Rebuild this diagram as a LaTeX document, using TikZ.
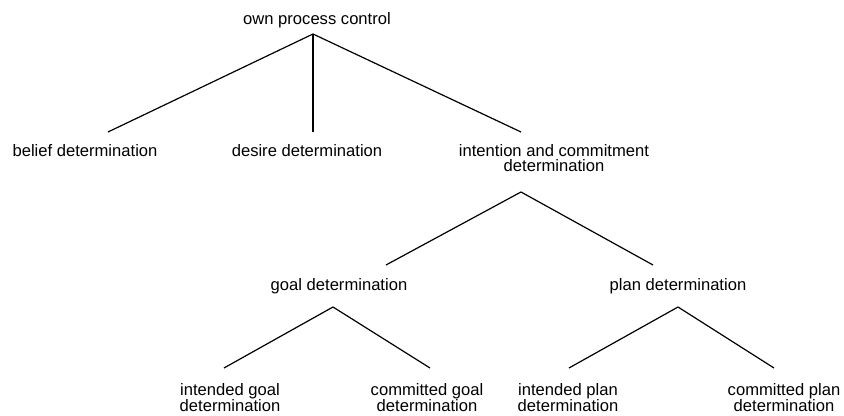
\documentclass[tikz,border=0pt]{standalone}
\usepackage{fontspec}
\setmainfont{Liberation Sans}
\begin{document}
\begin{tikzpicture}[x=0.75pt,y=-0.75pt,line width=0.9pt,
  every node/.style={inner sep=0pt, anchor=base, align=center, font=\fontsize{12.45}{11.25}\selectfont}]
\useasboundingbox (0,0) rectangle (844,416);
\node (root) at (317,25) {own process control};
\node (belief) at (85,157) {belief determination};
\node (desire) at (307,157) {desire determination};
\node (intention) at (554,172) {intention and commitment\\ determination};
\node (goal) at (339,291) {goal determination};
\node (plan) at (678,291) {plan determination};
\node (intgoal) at (230,412) {intended goal\\ determination};
\node (comgoal) at (427,412) {committed goal\\ determination};
\node (intplan) at (568,412) {intended plan\\ determination};
\node (complan) at (784,412) {committed plan\\ determination};

\draw ([shift={(-4,9)}]root.base) -- ([shift={(23,-25)}]belief.base);
\draw ([shift={(-4,9)}]root.base) -- ([shift={(6,-25)}]desire.base);
\draw ([shift={(-4,9)}]root.base) -- ([shift={(-33,-40)}]intention.base);
\draw ([shift={(-33,20)}]intention.base) -- ([shift={(47,-26)}]goal.base);
\draw ([shift={(-33,20)}]intention.base) -- ([shift={(-25,-26)}]plan.base);
\draw ([shift={(-6,16)}]goal.base) -- ([shift={(-6,-44)}]intgoal.base);
\draw ([shift={(-6,16)}]goal.base) -- ([shift={(3,-44)}]comgoal.base);
\draw ([shift={(0,16)}]plan.base) -- ([shift={(1,-44)}]intplan.base);
\draw ([shift={(0,16)}]plan.base) -- ([shift={(-10,-44)}]complan.base);
\end{tikzpicture}
\end{document}
